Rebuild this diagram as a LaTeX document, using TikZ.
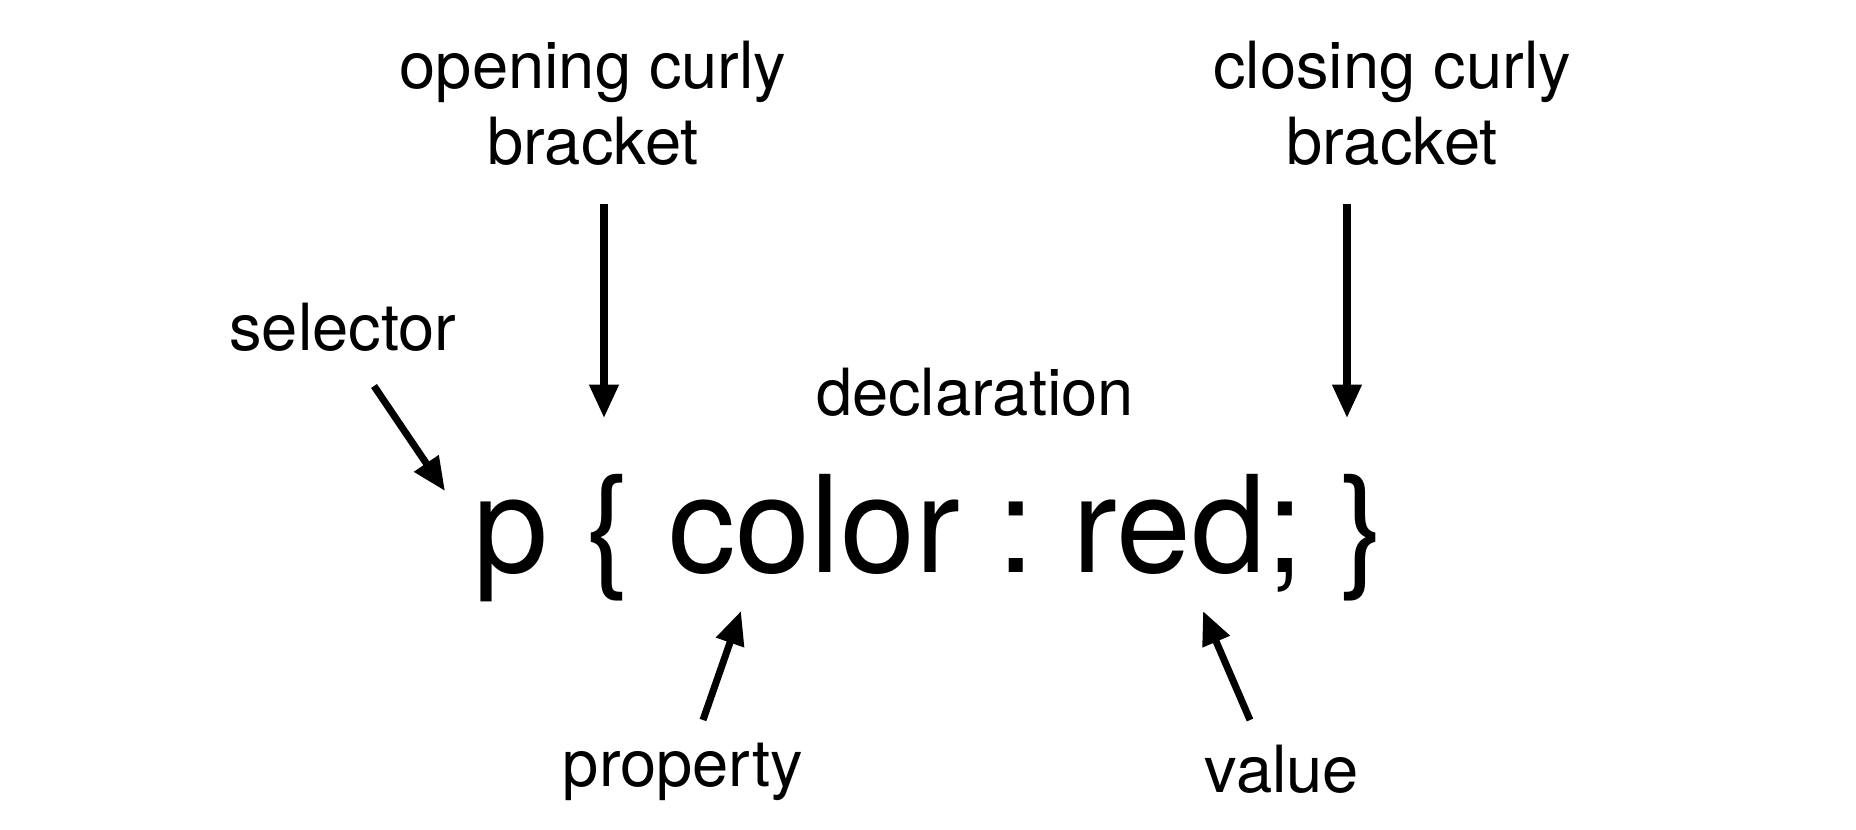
\documentclass[tikz,border=0pt]{standalone}
\usepackage{fontspec}
\setmainfont{TeX Gyre Heros}
\usetikzlibrary{arrows.meta}
\frenchspacing

\tikzset{
    label/.style={inner sep=0pt, align=center, font=\fontsize{18.5}{21.5}\selectfont},
    pointer/.style={line width=2pt, -{Triangle[length=9.5pt,width=8pt]}}
}

\begin{document}
\begin{tikzpicture}[x=0.01cm, y=-0.01cm]
\useasboundingbox (0,0) rectangle (1856,830);
% the rule itself
\node[inner sep=0pt, anchor=base west, font=\fontsize{38.3}{40}\selectfont] (rule) at (473,572) {p \{ color : red; \}};
% labels
\node[label] (open) at (593,103) {opening curly\\bracket};
\node[label] (close) at (1392,103) {closing curly\\bracket};
\node[label] (sel) at (343,327) {selector};
\node[label] (decl) at (975,392) {declaration};
\node[label] (prop) at (683,772) {property};
\node[label] (val) at (1282,769) {value};
% arrow ends
\coordinate (open tail) at (604,204);
\coordinate (open tip) at (604,418);
\coordinate (close tail) at (1347,204);
\coordinate (close tip) at (1347,418);
\coordinate (sel tail) at (374,386);
\coordinate (sel tip) at (445,491);
\coordinate (prop tail) at (703,720);
\coordinate (prop tip) at (741,611);
\coordinate (val tail) at (1250,720);
\coordinate (val tip) at (1203,611);
\draw[pointer] (open tail) -- (open tip);
\draw[pointer] (close tail) -- (close tip);
\draw[pointer] (sel tail) -- (sel tip);
\draw[pointer] (prop tail) -- (prop tip);
\draw[pointer] (val tail) -- (val tip);
\end{tikzpicture}
\end{document}
